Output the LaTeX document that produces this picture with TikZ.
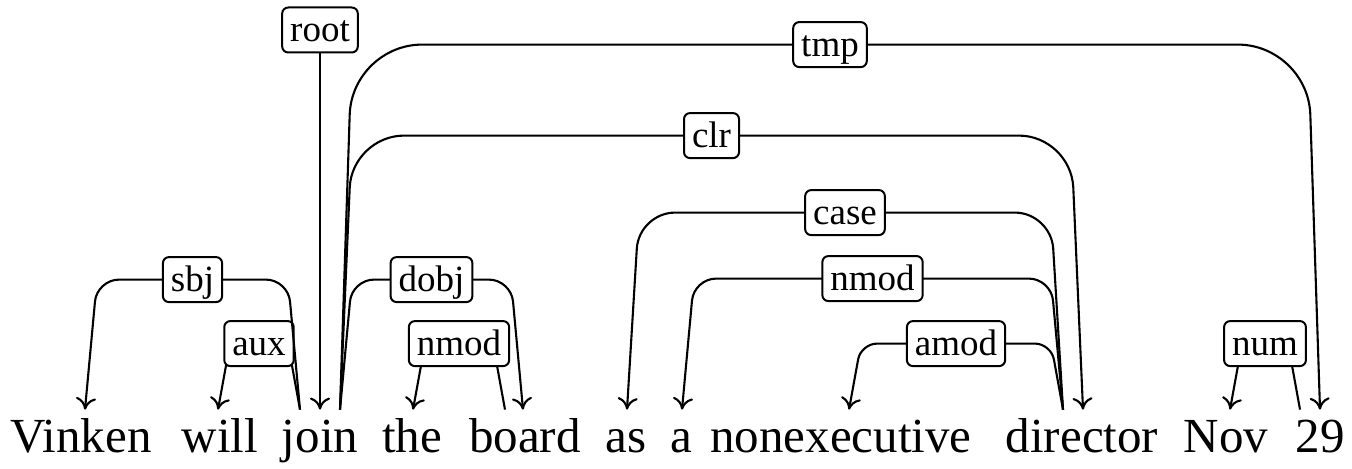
\documentclass[tikz,border=0pt]{standalone}
\usepackage{fontspec}
\setmainfont{Liberation Serif}
\usetikzlibrary{calc, arrows.meta}

\begin{document}
\begin{tikzpicture}[
        x=0.5pt, y=-0.5pt, % один пиксель исходника, ось y вниз
        word/.style={anchor=base, inner sep=0pt, text height=21pt, text depth=5pt, font=\fontsize{24.5}{29}\selectfont}, % слова предложения
        lab/.style={draw, fill=white, rounded corners=3pt, line width=1pt, inner xsep=4pt, inner ysep=2pt, text height=15pt, text depth=3.5pt, font=\fontsize{18.5}{21}\selectfont}, % метки зависимостей
        dep/.style={draw, line width=1.05pt, -{To[length=6pt, width=10pt]}}, % дуги
    ]
    \useasboundingbox (0,0) rectangle (1352,469);

    % Предложение
    \node[word] (vinken) at (81,452) {Vinken};
    \node[word] (will) at (220,452) {will};
    \node[word] (join) at (320,452) {join};
    \node[word] (the) at (412,452) {the};
    \node[word] (board) at (525,452) {board};
    \node[word] (as) at (626,452) {as};
    \node[word] (a) at (681,452) {a};
    \node[word] (nonexec) at (841,452) {nonexecutive};
    \node[word] (director) at (1082,452) {director};
    \node[word] (nov) at (1226,452) {Nov};
    \node[word] (twentynine) at (1320,452) {29};

    % Корень
    \node[lab] (root) at (320,30) {root};
    \draw[dep] (root) -- (join.north);

    % Короткие дуги
    \draw[dep, rounded corners=6pt] ([xshift=-10pt]join.north) -- ++(-12,-66)
        -- node[lab] (aux) {aux} ($([xshift=-1pt]will.north)+(12,-66)$) -- ([xshift=-1pt]will.north);
    \draw[dep, rounded corners=6pt] ([xshift=-10pt]board.north) -- ++(-12,-66)
        -- node[lab] (nmod-the) {nmod} ($([xshift=0.5pt]the.north)+(12,-66)$) -- ([xshift=0.5pt]the.north);
    \draw[dep, rounded corners=8pt] ([xshift=-9.5pt]director.north) -- ++(-12,-66)
        -- node[lab] (amod) {amod} ($([xshift=4pt]nonexec.north)+(12,-66)$) -- ([xshift=4pt]nonexec.north);
    \draw[dep, rounded corners=6pt] ([xshift=-10pt]twentynine.north) -- ++(-12,-66)
        -- node[lab] (num) {num} ($([xshift=2pt]nov.north)+(12,-66)$) -- ([xshift=2pt]nov.north);

    % Длинные дуги
    \draw[dep, rounded corners=11pt] ([xshift=-10pt]join.north) -- ++(-12,-130)
        -- node[lab] (sbj) {sbj} ($([xshift=2pt]vinken.north)+(12,-130)$) -- ([xshift=2pt]vinken.north);
    \draw[dep, rounded corners=11pt] ([xshift=10pt]join.north) -- ++(12,-130)
        -- node[lab] (dobj) {dobj} ($([xshift=-1pt]board.north)+(-12,-130)$) -- ([xshift=-1pt]board.north);
    \draw[dep, rounded corners=11pt] ([xshift=-9.5pt]director.north) -- ++(-12,-131)
        -- node[lab] (nmod-a) {nmod} ($([xshift=0.5pt]a.north)+(12,-131)$) -- ([xshift=0.5pt]a.north);
    \draw[dep, rounded corners=18pt] ([xshift=-9.5pt]director.north) -- ++(-12,-197)
        -- node[lab] (case) {case} ($([xshift=0.5pt]as.north)+(12,-197)$) -- ([xshift=0.5pt]as.north);
    \draw[dep, rounded corners=26pt] ([xshift=10pt]join.north) -- ++(12,-274)
        -- node[lab] (clr) {clr} ($([xshift=0.5pt]director.north)+(-12,-274)$) -- ([xshift=0.5pt]director.north);
    \draw[dep, rounded corners=35pt] ([xshift=10pt]join.north) -- ++(12,-365)
        -- node[lab] (tmp) {tmp} ($(twentynine.north)+(-12,-365)$) -- (twentynine.north);

\end{tikzpicture}
\end{document}
